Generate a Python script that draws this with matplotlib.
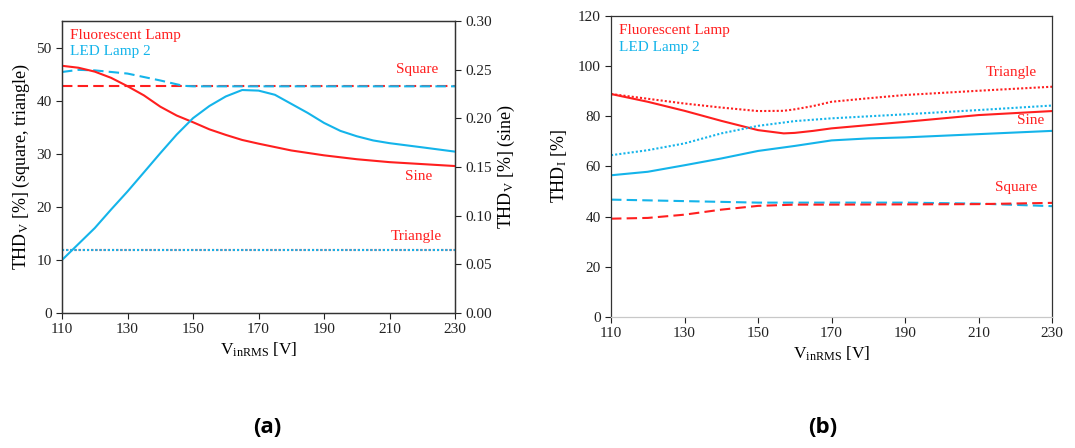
import numpy as np
import matplotlib
matplotlib.use("Agg")
import matplotlib.pyplot as plt

plt.rcParams['font.family'] = ['Liberation Serif', 'DejaVu Serif']
plt.rcParams['mathtext.fontset'] = 'custom'
plt.rcParams['mathtext.rm'] = 'Liberation Serif'
plt.rcParams['mathtext.it'] = 'Liberation Serif:italic'

RED = '#ff1f1f'
BLUE = '#14b4ea'

# ---- (a) THD_V ----
v_sine = [110, 115, 120, 125, 130, 135, 140, 145, 150, 155, 160, 165, 170, 180, 190, 200, 210, 220, 230]
fl_sine_v = [0.254, 0.252, 0.248, 0.2416, 0.233, 0.2236, 0.212, 0.2029, 0.196, 0.1887, 0.183,
             0.1778, 0.174, 0.167, 0.162, 0.158, 0.155, 0.153, 0.151]
v_led_sine = [110, 115, 120, 125, 130, 135, 140, 145, 150, 155, 160, 165, 170, 175, 180, 185,
              190, 195, 200, 205, 210, 220, 230]
led_sine_v = [0.0545, 0.0709, 0.0873, 0.1064, 0.1249, 0.1445, 0.1642, 0.1833, 0.2002, 0.2127,
              0.2225, 0.2291, 0.2285, 0.2242, 0.2149, 0.2056, 0.1953, 0.1871, 0.1816, 0.1773,
              0.1745, 0.1702, 0.1658]
v_sq = [110, 230]
fl_square_v = [42.7, 42.7]
v_led_sq = [110, 115, 120, 130, 140, 147, 150, 230]
led_square_v = [45.4, 45.8, 45.7, 45.1, 43.8, 42.8, 42.7, 42.7]
fl_tri_v = [11.9, 11.9]
led_tri_v = [11.9, 11.9]

# ---- (b) THD_I ----
v_b = [110, 120, 130, 140, 150, 157, 160, 165, 170, 180, 190, 210, 230]
fl_tri_i = [88.9, 87.0, 85.1, 83.5, 82.1, 82.2, 82.8, 84.1, 85.8, 87.2, 88.5, 90.2, 91.8]
fl_sine_i = [88.9, 85.8, 82.2, 78.2, 74.5, 73.2, 73.4, 74.2, 75.2, 76.5, 77.8, 80.5, 82.1]
v_b2 = [110, 120, 130, 140, 150, 160, 170, 180, 190, 210, 230]
led_tri_i = [64.5, 66.5, 69.2, 73.2, 76.2, 78.1, 79.2, 80.0, 80.8, 82.5, 84.3]
led_sine_i = [56.5, 57.9, 60.5, 63.2, 66.2, 68.2, 70.4, 71.2, 71.6, 72.9, 74.2]
v_b3 = [110, 130, 150, 190, 210, 230]
led_square_i = [46.8, 46.2, 45.6, 45.6, 45.2, 44.2]
v_b4 = [110, 120, 130, 140, 150, 160, 170, 210, 230]
fl_square_i = [39.2, 39.5, 40.8, 42.8, 44.3, 44.8, 44.8, 45.0, 45.5]

xticks = [110, 130, 150, 170, 190, 210, 230]

fig = plt.figure(figsize=(10.75, 4.48), dpi=100)
ax1 = fig.add_axes([0.0577, 0.3013, 0.3656, 0.6518])
ax2 = ax1.twinx()
axb = fig.add_axes([0.5684, 0.2924, 0.4102, 0.6719])

lw = 1.5
dash = (0, (5, 2.5))
dot = (0, (1, 1))

# left axis: square, triangle
ax1.plot(v_sq, fl_square_v, color=RED, lw=lw, ls=dash)
ax1.plot(v_led_sq, led_square_v, color=BLUE, lw=lw, ls=dash)
ax1.plot(v_sq, fl_tri_v, color=RED, lw=lw, ls=dot)
ax1.plot(v_sq, led_tri_v, color=BLUE, lw=lw, ls=dot)
# right axis: sine
ax2.plot(v_sine, fl_sine_v, color=RED, lw=lw)
ax2.plot(v_led_sine, led_sine_v, color=BLUE, lw=lw)

ax1.set_xlim(110, 230)
ax1.set_ylim(0, 55)
ax1.set_yticks([0, 10, 20, 30, 40, 50])
ax2.set_ylim(0, 0.30)
ax2.set_yticks([0, 0.05, 0.10, 0.15, 0.20, 0.25, 0.30])
ax2.set_yticklabels(['%.2f' % t for t in [0, 0.05, 0.10, 0.15, 0.20, 0.25, 0.30]])
ax1.set_xticks(xticks)

ax1.set_ylabel(r'THD$_\mathrm{V}$ [%] (square, triangle)', fontsize=13, labelpad=3)
ax2.set_ylabel(r'THD$_\mathrm{V}$ [%] (sine)', fontsize=13, labelpad=3)
ax1.set_xlabel(r'V$_\mathrm{inRMS}$ [V]', fontsize=12.5, labelpad=3)

ax1.text(0.02, 0.952, 'Fluorescent Lamp', color=RED, fontsize=11, transform=ax1.transAxes, va='center')
ax1.text(0.02, 0.897, 'LED Lamp 2', color=BLUE, fontsize=11, transform=ax1.transAxes, va='center')
ax1.text(225, 45.8, 'Square', color=RED, fontsize=11, ha='right', va='center')
ax1.text(223, 25.7, 'Sine', color=RED, fontsize=11, ha='right', va='center')
ax1.text(226, 14.5, 'Triangle', color=RED, fontsize=11, ha='right', va='center')

# (b)
axb.plot(v_b, fl_tri_i, color=RED, lw=lw, ls=dot)
axb.plot(v_b, fl_sine_i, color=RED, lw=lw)
axb.plot(v_b2, led_tri_i, color=BLUE, lw=lw, ls=dot)
axb.plot(v_b2, led_sine_i, color=BLUE, lw=lw)
axb.plot(v_b3, led_square_i, color=BLUE, lw=lw, ls=dash)
axb.plot(v_b4, fl_square_i, color=RED, lw=lw, ls=dash)

axb.set_xlim(110, 230)
axb.set_ylim(0, 120)
axb.set_yticks([0, 20, 40, 60, 80, 100, 120])
axb.set_xticks(xticks)
axb.set_ylabel(r'THD$_\mathrm{I}$ [%]', fontsize=13, labelpad=6)
axb.set_xlabel(r'V$_\mathrm{inRMS}$ [V]', fontsize=12.5, labelpad=3)
axb.text(0.017, 0.953, 'Fluorescent Lamp', color=RED, fontsize=11, transform=axb.transAxes, va='center')
axb.text(0.017, 0.894, 'LED Lamp 2', color=BLUE, fontsize=11, transform=axb.transAxes, va='center')
axb.text(226, 97.5, 'Triangle', color=RED, fontsize=11, ha='right', va='center')
axb.text(228, 78.5, 'Sine', color=RED, fontsize=11, ha='right', va='center')
axb.text(226, 51.5, 'Square', color=RED, fontsize=11, ha='right', va='center')

for ax in (ax1, ax2, axb):
    ax.tick_params(direction='out', length=4, width=0.8, labelsize=11, colors='#222222')
    for s in ax.spines.values():
        s.set_linewidth(0.9)
        s.set_color('#333333')
axb.spines['bottom'].set_color('#c8c8c8')

fig.text(0.249, 0.033, '(a)', fontsize=16, fontweight='bold', family='Open Sans', ha='center')
fig.text(0.765, 0.033, '(b)', fontsize=16, fontweight='bold', family='Open Sans', ha='center')

fig.savefig('out.png', dpi=100)
